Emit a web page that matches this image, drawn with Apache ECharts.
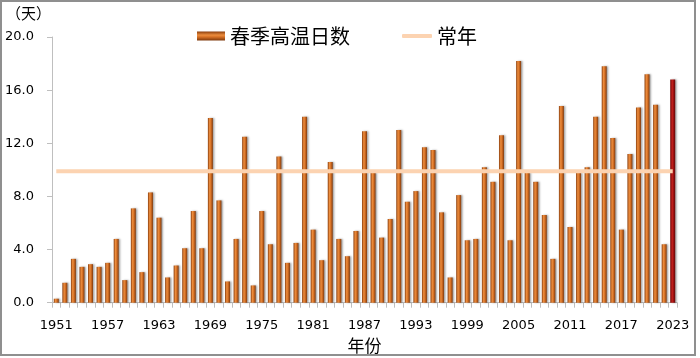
<!DOCTYPE html>
<html>
<head>
<meta charset="utf-8">
<script src="https://cdn.jsdelivr.net/npm/echarts@6/dist/echarts.min.js"></script>
<style>
html,body{margin:0;padding:0;background:#fff;}
#c{width:700px;height:358px;}
</style>
</head>
<body>
<div id="c"></div>
<script>
// Years 1951-2023
const years = [];
for (let y = 1951; y <= 2023; y++) years.push(String(y));

// Spring high-temperature days
const springHotDays = [
  0.3, 1.5, 3.3, 2.7, 2.9, 2.7, 3.0, 4.8, 1.7, 7.1,
  2.3, 8.3, 6.4, 1.9, 2.8, 4.1, 6.9, 4.1, 13.9, 7.7,
  1.6, 4.8, 12.5, 1.3, 6.9, 4.4, 11.0, 3.0, 4.5, 14.0,
  5.5, 3.2, 10.6, 4.8, 3.5, 5.4, 12.9, 9.8, 4.9, 6.3,
  13.0, 7.6, 8.4, 11.7, 11.5, 6.8, 1.9, 8.1, 4.7, 4.8,
  10.2, 9.1, 12.6, 4.7, 18.2, 9.8, 9.1, 6.6, 3.3, 14.8,
  5.7, 9.8, 10.2, 14.0, 17.8, 12.4, 5.5, 11.2, 14.7, 17.2,
  14.9, 4.4, 16.8
];

// Normal (常年) value
const normalDays = 9.9;
const normalSeries = years.map(() => normalDays);

// Y tick values
const yTicks = [0, 4, 8, 12, 16, 20];

const orangeGrad = new echarts.graphic.LinearGradient(0, 0, 1, 0, [
  {offset: 0, color: '#8a3d0c'},
  {offset: 0.35, color: '#ec8d3e'},
  {offset: 0.6, color: '#d87226'},
  {offset: 1, color: '#7e380b'}
]);
const legendGrad = new echarts.graphic.LinearGradient(0, 0, 0, 1, [
  {offset: 0, color: '#8a3d0c'},
  {offset: 0.4, color: '#ec8d3e'},
  {offset: 0.6, color: '#d87226'},
  {offset: 1, color: '#7e380b'}
]);
const redGrad = new echarts.graphic.LinearGradient(0, 0, 1, 0, [
  {offset: 0, color: '#6e0606'},
  {offset: 0.4, color: '#c4201c'},
  {offset: 0.6, color: '#a81414'},
  {offset: 1, color: '#600505'}
]);

const barData = springHotDays.map((v, i) => ({
  value: v,
  itemStyle: i === springHotDays.length - 1 ? {color: redGrad} : {color: orangeGrad}
}));

const chart = echarts.init(document.getElementById('c'), null, {renderer: 'canvas'});
chart.setOption({
  animation: false,
  backgroundColor: '#fff',
  textStyle: {fontFamily: 'DejaVu Sans'},
  grid: {left: 52, right: 23, top: 37, bottom: 55.3, containLabel: false, outerBoundsMode: 'none'},
  graphic: [
    {type: 'rect', shape: {x: 1, y: 1, width: 694, height: 354}, style: {fill: 'none', stroke: '#8f8f8f', lineWidth: 2}, silent: true},
    {type: 'text', left: 6, top: 6, style: {text: '（天）', font: '15px "Noto Sans CJK SC"', fill: '#000'}}
  ],
  legend: [
    {
      left: 197, top: 26, padding: 0,
      itemWidth: 28, itemHeight: 9,
      textStyle: {fontSize: 20, fontFamily: 'Noto Sans CJK SC', color: '#000'},
      data: [{name: '春季高温日数', icon: 'rect', itemStyle: {color: legendGrad}}]
    },
    {
      left: 402, top: 26, padding: 0,
      itemWidth: 30, itemHeight: 4,
      textStyle: {fontSize: 20, fontFamily: 'Noto Sans CJK SC', color: '#000'},
      data: [{name: '常年', icon: 'roundRect', itemStyle: {color: '#fcd3b1'}}]
    }
  ],
  xAxis: {
    type: 'category',
    data: years,
    name: '年份',
    nameLocation: 'middle',
    nameGap: 34,
    nameTextStyle: {fontSize: 17, fontFamily: 'Noto Sans CJK SC', color: '#000'},
    axisLine: {lineStyle: {color: '#bfbfbf', width: 1}},
    axisTick: {show: true, interval: 0, length: 5, lineStyle: {color: '#bfbfbf'}},
    axisLabel: {interval: 5, fontSize: 13, color: '#000', margin: 16, fontFamily: 'DejaVu Sans'}
  },
  yAxis: {
    type: 'value',
    min: yTicks[0], max: yTicks[yTicks.length - 1], interval: 4,
    axisLine: {show: true, lineStyle: {color: '#bfbfbf', width: 1}},
    axisTick: {show: true, length: 5, lineStyle: {color: '#bfbfbf'}},
    splitLine: {show: false},
    axisLabel: {fontSize: 13, color: '#000', margin: 18, fontFamily: 'DejaVu Sans', formatter: v => v.toFixed(1)}
  },
  series: [
    {
      name: '春季高温日数',
      type: 'bar',
      barWidth: 5,
      data: barData,
      itemStyle: {shadowColor: 'rgba(0,0,0,0.35)', shadowBlur: 2, shadowOffsetX: 1.5}
    },
    {
      name: '常年',
      type: 'line',
      data: normalSeries,
      symbol: 'none',
      z: 5,
      lineStyle: {color: '#fcd3b1', width: 4},
      itemStyle: {color: '#fcd3b1'}
    }
  ]
});
</script>
</body>
</html>
